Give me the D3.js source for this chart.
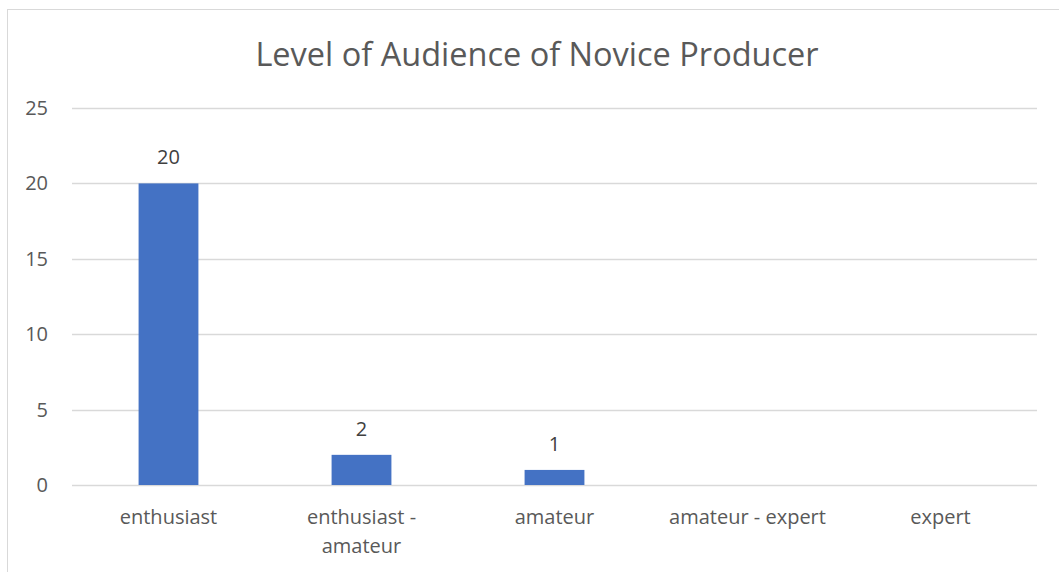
<!DOCTYPE html>
<html><head><meta charset="utf-8">
<script src="https://cdn.jsdelivr.net/npm/d3@7"></script>
<style>body{margin:0;background:#fff}svg{display:block}</style>
</head><body>
<svg id="c" width="1059" height="572"></svg>
<script>
const title = "Level of Audience of Novice Producer";
const categories = ["enthusiast", "enthusiast - amateur", "amateur", "amateur - expert", "expert"];
const categoryLines = [["enthusiast"], ["enthusiast -", "amateur"], ["amateur"], ["amateur - expert"], ["expert"]];
const values = [20, 2, 1, 0, 0];
const yTicks = [0, 5, 10, 15, 20, 25];

(function () {
const svg = d3.select("#c");
const font = "'Open Sans', sans-serif";
const textColor = "#595959";
const rows = categories.map((c, i) => ({ c, v: values[i], lines: categoryLines[i] }));

// frame
svg.append("rect").attr("x", 7.5).attr("y", 9.5).attr("width", 1100).attr("height", 600)
  .attr("fill", "none").attr("stroke", "#d9d9d9").attr("stroke-width", 1);

const pL = 72, pR = 1037, pT = 108, pB = 485;
const x = d3.scaleBand().domain(categories).range([pL, pR]).paddingInner(0.69).paddingOuter(0.345);
const y = d3.scaleLinear().domain([0, 25]).range([pB, pT]);

// gridlines
svg.append("g").selectAll("line").data(yTicks).join("line")
  .attr("x1", pL).attr("x2", pR)
  .attr("y1", d => Math.round(y(d)) + 0.5).attr("y2", d => Math.round(y(d)) + 0.5)
  .attr("stroke", "#d9d9d9").attr("stroke-width", 1.5);

// y axis labels
const yAxis = d3.axisLeft(y).tickValues(yTicks).tickSize(0).tickPadding(0);
const ya = svg.append("g").attr("transform", "translate(48,0)").call(yAxis);
ya.select(".domain").remove();
ya.selectAll("text").attr("fill", textColor).style("font-family", font).style("font-size", "20px");

// bars
svg.append("g").selectAll("rect").data(rows).join("rect")
  .attr("x", d => x(d.c))
  .attr("width", x.bandwidth())
  .attr("y", d => y(d.v))
  .attr("height", d => y(0) - y(d.v))
  .attr("fill", "#4472C4");

// data labels
svg.append("g").selectAll("text").data(rows.filter(d => d.v > 0)).join("text")
  .attr("x", d => x(d.c) + x.bandwidth() / 2)
  .attr("y", d => y(d.v) - 19)
  .attr("text-anchor", "middle")
  .attr("fill", "#404040")
  .style("font-family", font).style("font-size", "20px")
  .text(d => d.v);

// x axis labels
const xg = svg.append("g");
rows.forEach(d => {
  const cx = x(d.c) + x.bandwidth() / 2;
  const t = xg.append("text")
    .attr("x", cx).attr("y", 524)
    .attr("text-anchor", "middle")
    .attr("fill", textColor)
    .style("font-family", font).style("font-size", "20px");
  d.lines.forEach((ln, j) => {
    t.append("tspan").attr("x", cx).attr("dy", j === 0 ? 0 : 29).text(ln);
  });
});

// title
svg.append("text").attr("x", 537).attr("y", 66).attr("text-anchor", "middle")
  .attr("fill", textColor).style("font-family", font).style("font-size", "32.5px")
  .text(title);
})();
</script>
</body></html>
